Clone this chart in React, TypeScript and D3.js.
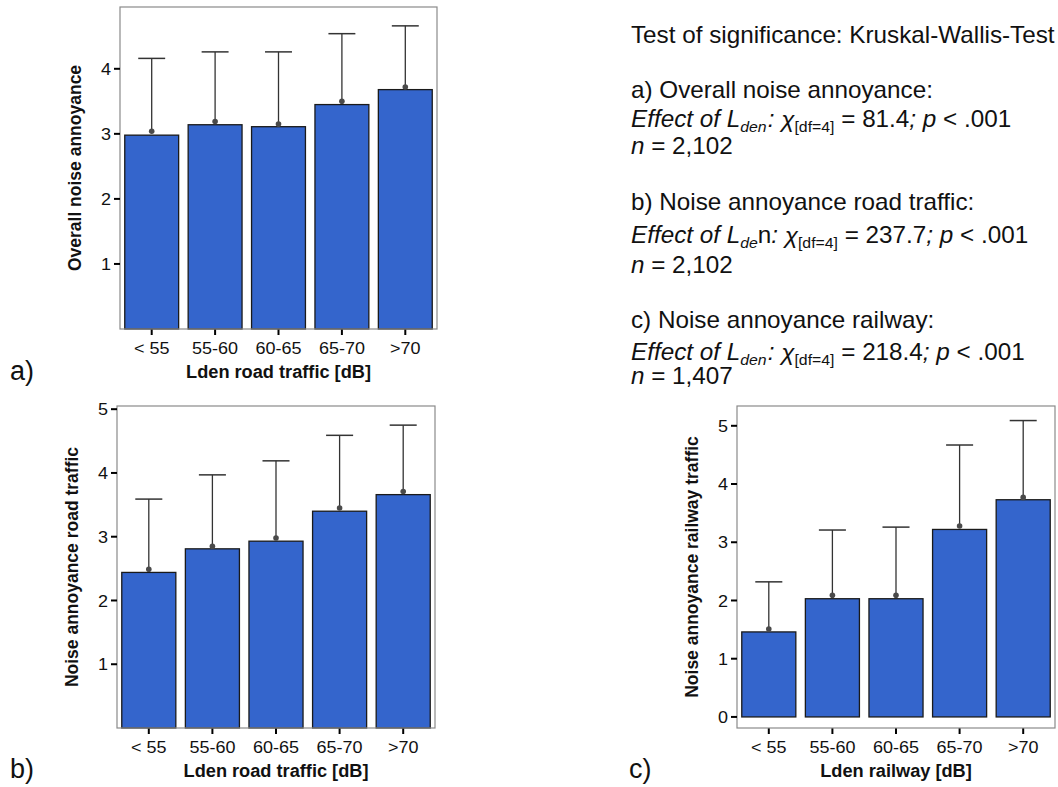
import React from "react";
import * as d3 from "d3";

const categories = ["< 55", "55-60", "60-65", "65-70", ">70"];

const overallBars = [2.98, 3.14, 3.11, 3.45, 3.68];
const overallDots = [3.04, 3.19, 3.15, 3.5, 3.72];
const overallUpper = [4.16, 4.26, 4.26, 4.54, 4.66];

const roadBars = [2.44, 2.81, 2.93, 3.4, 3.66];
const roadDots = [2.49, 2.85, 2.98, 3.45, 3.71];
const roadUpper = [3.59, 3.97, 4.19, 4.59, 4.75];

const railBars = [1.46, 2.03, 2.03, 3.22, 3.73];
const railDots = [1.51, 2.09, 2.09, 3.28, 3.77];
const railUpper = [2.32, 3.21, 3.26, 4.67, 5.09];

const ticksA = [1, 2, 3, 4];
const ticksB = [1, 2, 3, 4, 5];
const ticksC = [0, 1, 2, 3, 4, 5];

const FONT = "'Liberation Sans', Arial, Helvetica, sans-serif";

type PanelProps = {
  x0: number; x1: number; y0: number; y1: number;
  domain: [number, number];
  ticks: number[];
  bars: number[]; dots: number[]; upper: number[];
  yTitle: string; xTitle: string;
};

function Panel(p: PanelProps) {
  const x = d3.scaleBand<string>().domain(categories).range([p.x0, p.x1]).paddingInner(0.15).paddingOuter(0.075);
  const y = d3.scaleLinear().domain(p.domain).range([p.y1, p.y0]);
  const base = y(Math.max(0, p.domain[0]));
  const bw = x.bandwidth();
  const xc = (p.x0 + p.x1) / 2;
  return (
    <g>
      {categories.map((c, i) => {
        const bx = x(c)!;
        const cx = bx + bw / 2;
        return (
          <g key={c}>
            <rect x={bx} y={y(p.bars[i])} width={bw} height={base - y(p.bars[i])} fill="#3465cc" stroke="#1a1a1a" strokeWidth={1.3} />
            <line x1={cx} x2={cx} y1={y(p.dots[i])} y2={y(p.upper[i])} stroke="#333" strokeWidth={1.3} />
            <line x1={cx - bw / 4} x2={cx + bw / 4} y1={y(p.upper[i])} y2={y(p.upper[i])} stroke="#333" strokeWidth={1.5} />
            <circle cx={cx} cy={y(p.dots[i])} r={2.8} fill="#4a4a4a" />
            <line x1={cx} x2={cx} y1={p.y1} y2={p.y1 + 6} stroke="#000" strokeWidth={2} />
            <text transform={`translate(${cx},${p.y1 + 25}) scale(1.06,1)`} textAnchor="middle" fontSize={17} fontFamily={FONT} fill="#111">{c}</text>
          </g>
        );
      })}
      <rect x={p.x0} y={p.y0} width={p.x1 - p.x0} height={p.y1 - p.y0} fill="none" stroke="#8a8a8a" strokeWidth={1.2} />
      {p.ticks.map((t) => (
        <g key={t}>
          <line x1={p.x0 - 6} x2={p.x0} y1={y(t)} y2={y(t)} stroke="#000" strokeWidth={2} />
          <text transform={`translate(${p.x0 - 9},${y(t)}) scale(1.06,1)`} dy="0.36em" textAnchor="end" fontSize={17} fontFamily={FONT} fill="#111">{t}</text>
        </g>
      ))}
      <text transform={`translate(${xc},${p.y1 + 49}) scale(1.04,1)`} textAnchor="middle" fontSize={17.5} fontWeight="bold" fontFamily={FONT} fill="#111">{p.xTitle}</text>
      <text transform={`translate(${p.x0 - 45},${(p.y0 + p.y1) / 2}) rotate(-90)`} textAnchor="middle" dy="0.35em" fontSize={17.5} fontWeight="bold" fontFamily={FONT} fill="#111">{p.yTitle}</text>
    </g>
  );
}

function EffectLine({ y, value, odd }: { y: number; value: string; odd?: boolean }) {
  return (
    <text x={631} y={y} fontSize={23} fontFamily={FONT} fill="#111">
      <tspan fontStyle="italic">Effect of L</tspan>
      {odd ? (
        <>
          <tspan fontStyle="italic" fontSize={15} dy={5}>de</tspan>
          <tspan dy={-5}>n</tspan>
        </>
      ) : (
        <>
          <tspan fontStyle="italic" fontSize={15} dy={5}>den</tspan>
          <tspan dy={-5} fontSize={4}> </tspan>
        </>
      )}
      <tspan fontStyle="italic">: χ</tspan>
      <tspan fontSize={15} dy={5}>[df=4]</tspan>
      <tspan dy={-5}>{` = ${value}`}</tspan>
      <tspan fontStyle="italic">; p</tspan>
      <tspan>{" < .001"}</tspan>
    </text>
  );
}

function NLine({ y, n }: { y: number; n: string }) {
  return (
    <text x={631} y={y} fontSize={23} fontFamily={FONT} fill="#111">
      <tspan fontStyle="italic">n</tspan>
      <tspan>{` = ${n}`}</tspan>
    </text>
  );
}

export default function App() {
  return (
    <svg width={1058} height={787} style={{ position: "absolute", left: 0, top: 0, background: "#fff" }}>
      <rect width={1058} height={787} fill="#fff" />
      <Panel x0={120} x1={437} y0={7} y1={329} domain={[0, 4.95]} ticks={ticksA}
        bars={overallBars} dots={overallDots} upper={overallUpper}
        yTitle="Overall noise annoyance" xTitle="Lden road traffic [dB]" />
      <Panel x0={117} x1={435} y0={406} y1={728} domain={[0, 5.05]} ticks={ticksB}
        bars={roadBars} dots={roadDots} upper={roadUpper}
        yTitle="Noise annoyance road traffic" xTitle="Lden road traffic [dB]" />
      <Panel x0={737} x1={1055} y0={406} y1={728} domain={[-0.19, 5.34]} ticks={ticksC}
        bars={railBars} dots={railDots} upper={railUpper}
        yTitle="Noise annoyance railway traffic" xTitle="Lden railway [dB]" />

      <text x={10} y={380} fontSize={27} fontFamily={FONT} fill="#111">a)</text>
      <text x={10} y={778} fontSize={27} fontFamily={FONT} fill="#111">b)</text>
      <text x={629} y={778} fontSize={27} fontFamily={FONT} fill="#111">c)</text>

      <g transform="translate(631,0) scale(1.055,1) translate(-631,0)">
        <text x={631} y={43} fontSize={23} fontFamily={FONT} fill="#111">Test of significance: Kruskal-Wallis-Test</text>
        <text x={631} y={98} fontSize={23} fontFamily={FONT} fill="#111">a) Overall noise annoyance:</text>
        <EffectLine y={127} value="81.4" />
        <NLine y={154} n="2,102" />
        <text x={631} y={210} fontSize={23} fontFamily={FONT} fill="#111">b) Noise annoyance road traffic:</text>
        <EffectLine y={243} value="237.7" odd />
        <NLine y={273} n="2,102" />
        <text x={631} y={328} fontSize={23} fontFamily={FONT} fill="#111">c) Noise annoyance railway:</text>
        <EffectLine y={360} value="218.4" />
        <NLine y={384} n="1,407" />
      </g>
    </svg>
  );
}
